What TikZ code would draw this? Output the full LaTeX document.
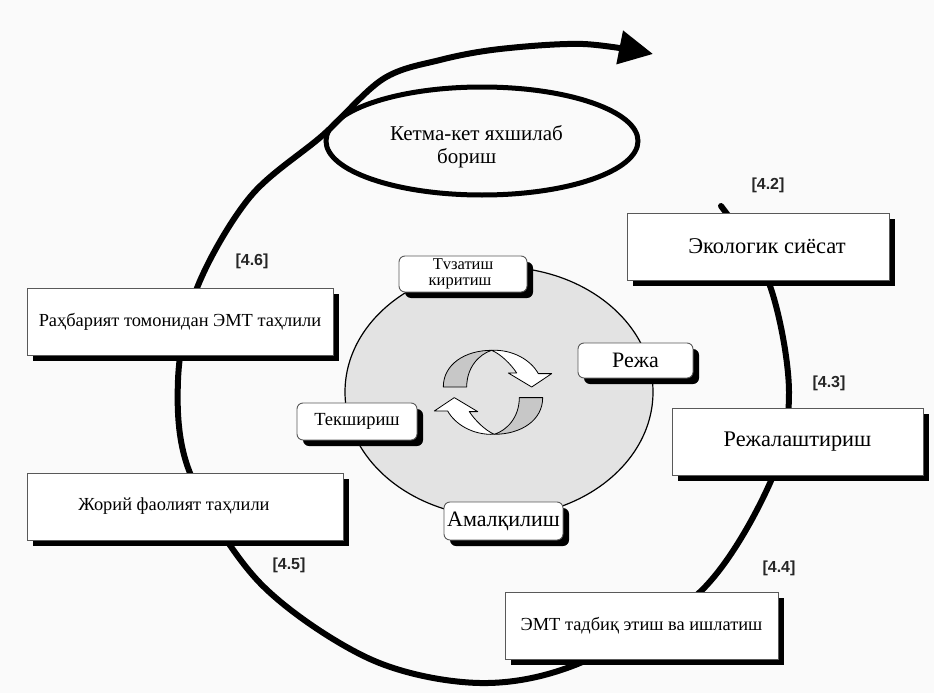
\documentclass[tikz,border=0pt]{standalone}
\usepackage{fontspec}
\setmainfont{Liberation Serif}
\newfontfamily\labfont{Liberation Sans}
\usetikzlibrary{arrows.meta,shapes.geometric,shadows}
\begin{document}
\begin{tikzpicture}[x=1pt,y=-1pt,
  shd/.style={drop shadow={shadow xshift=6pt,shadow yshift=-6pt,fill=black,opacity=1}},
  bigbox/.style={shd,draw=black!65,line width=0.9pt,fill=white,inner sep=0pt,
     font=\fontsize{18.4}{22}\selectfont},
  smallbox/.style={shd,draw=black!65,line width=0.9pt,fill=white,inner sep=0pt,
     rounded corners=6pt,font=\fontsize{20}{22}\selectfont},
  lab/.style={font=\labfont\bfseries\fontsize{16}{18}\selectfont,text=black!85},
  loopline/.style={line width=6pt,line cap=round},
  cyc/.style={draw=black,line width=0.8pt,line join=round}]
\fill[black!2] (0,0) rectangle (934,693);
\useasboundingbox (0,0) rectangle (934,693);

% big loop with arrow
\draw[loopline,-{Triangle[length=34pt,width=33pt]}] plot[smooth,tension=0.55] coordinates {
 (721,206) (769,283) (789,392) (770,483) (700,592) (580,663) (480,683)
 (370,659) (260,583) (190,473) (178,380) (197,288) (250,197) (323,135)
 (383,79) (440,60) (500,49) (583,44) (653,54)};

% improvement ellipse
\node[ellipse,draw,line width=5pt,minimum width=312pt,minimum height=108pt,inner sep=0pt] (imp) at (482,141) {};
\node[anchor=base west,inner sep=0pt,font=\fontsize{21}{24}\selectfont] (impa) at (390,140) {Кетма-кет яхшилаб};
\node[anchor=base west,inner sep=0pt,font=\fontsize{21}{24}\selectfont] (impb) at (437,163) {бориш};

% inner PDCA circle
\node[ellipse,draw=black,line width=1.2pt,fill=black!11,minimum width=308pt,minimum height=250pt,inner sep=0pt] (pdca) at (499,392) {};

% cycle arrows
\begin{scope}[shift={(493,392.3)}]
 \draw[cyc,fill=black!22] (-49.7,-5.3) .. controls (-49.7,-28) and (-28,-42) .. (-1.3,-42)
   .. controls (-14,-38) and (-26.3,-25) .. (-26.3,-5.3) -- cycle;
 \draw[cyc,fill=white] (-1.3,-42) .. controls (20,-43) and (38,-32) .. (45.3,-18.7)
   -- (58.7,-18.7) -- (38.7,-5.3) -- (15.3,-19.3) -- (23.7,-19.3)
   .. controls (18,-28) and (8,-38) .. (-1.3,-42) -- cycle;
\end{scope}
\begin{scope}[shift={(493,392.3)},rotate=180]
 \draw[cyc,fill=black!22] (-49.7,-5.3) .. controls (-49.7,-28) and (-28,-42) .. (-1.3,-42)
   .. controls (-14,-38) and (-26.3,-25) .. (-26.3,-5.3) -- cycle;
 \draw[cyc,fill=white] (-1.3,-42) .. controls (20,-43) and (38,-32) .. (45.3,-18.7)
   -- (58.7,-18.7) -- (38.7,-5.3) -- (15.3,-19.3) -- (23.7,-19.3)
   .. controls (18,-28) and (8,-38) .. (-1.3,-42) -- cycle;
\end{scope}

% small rounded boxes
\node[smallbox,minimum width=128pt,minimum height=36pt,align=center,font=\fontsize{16.5}{15.5}\selectfont] (fix) at (463,274) {Тvзатиш\\киритиш\hspace*{6pt}};
\node[smallbox,minimum width=115pt,minimum height=35pt,font=\fontsize{22}{24}\selectfont] (reja) at (635.5,360.5) {Режа};
\node[smallbox,minimum width=120pt,minimum height=37pt,font=\fontsize{18.5}{22}\selectfont] (check) at (357,421.5) {Текшириш};
\node[smallbox,minimum width=119pt,minimum height=38pt,font=\fontsize{22}{24}\selectfont] (act) at (503.5,521) {Амалқилиш};

% big boxes
\node[bigbox,minimum width=262pt,minimum height=67pt,font=\fontsize{22.5}{26}\selectfont] (eco) at (758,246.5) {\hspace*{18pt}Экологик сиёсат};
\node[bigbox,minimum width=251pt,minimum height=67pt,font=\fontsize{22.3}{26}\selectfont] (plan) at (797.5,441.5) {Режалаштириш};
\node[bigbox,minimum width=273pt,minimum height=67pt] (impl) at (641.5,625.5) {ЭМТ тадбиқ этиш ва ишлатиш};
\node[bigbox,minimum width=316pt,minimum height=67pt] (curr) at (185,506.5) {Жорий фаолият таҳлили\hspace*{22pt}};
\node[bigbox,minimum width=306pt,minimum height=67pt] (mgmt) at (180,321.5) {Раҳбарият томонидан ЭМТ таҳлили};

% labels
\node[lab] (l42) at (768,185) {[4.2]};
\node[lab] (l43) at (829,383) {[4.3]};
\node[lab] (l44) at (779,568) {[4.4]};
\node[lab] (l45) at (289,565) {[4.5]};
\node[lab] (l46) at (252,261) {[4.6]};
\end{tikzpicture}
\end{document}
